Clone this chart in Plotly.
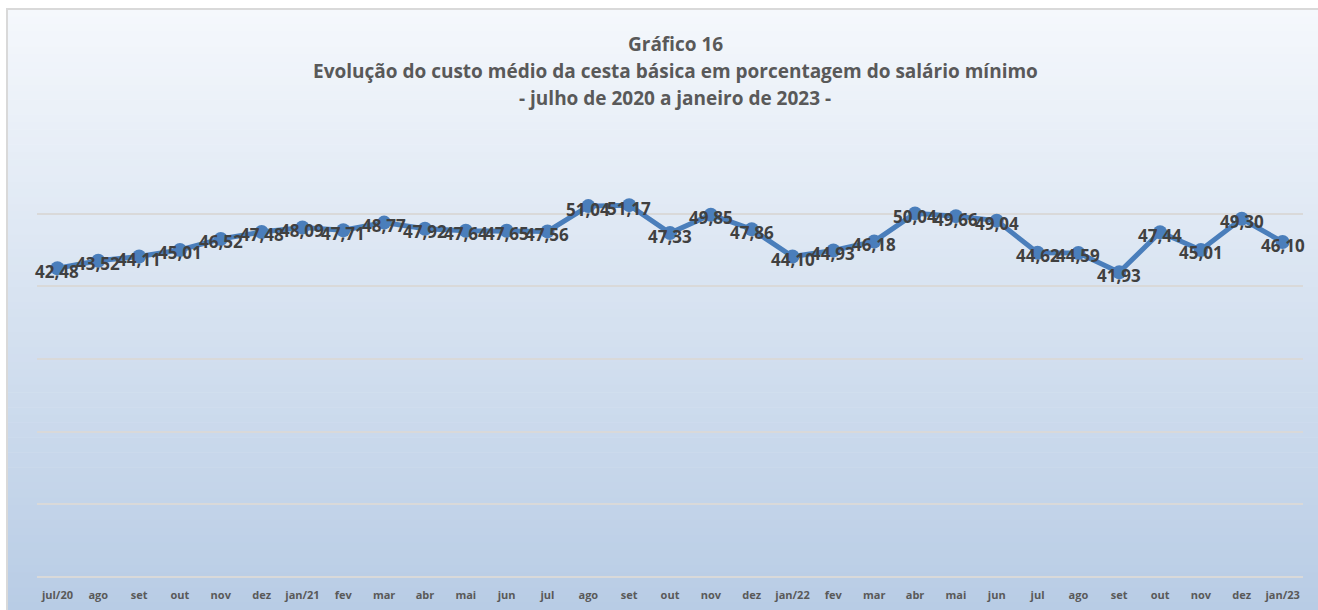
import plotly.graph_objects as go

# ---- data ----
months = ["jul/20", "ago", "set", "out", "nov", "dez", "jan/21", "fev", "mar", "abr", "mai", "jun",
          "jul", "ago", "set", "out", "nov", "dez", "jan/22", "fev", "mar", "abr", "mai", "jun",
          "jul", "ago", "set", "out", "nov", "dez", "jan/23"]
values = [42.48, 43.52, 44.11, 45.01, 46.52, 47.48, 48.09, 47.71, 48.77, 47.92, 47.64, 47.65,
          47.56, 51.04, 51.17, 47.33, 49.85, 47.86, 44.10, 44.93, 46.18, 50.04, 49.66, 49.04,
          44.62, 44.59, 41.93, 47.44, 45.01, 49.30, 46.10]
title_lines = ["Gráfico 16",
               "Evolução do custo médio da cesta básica em porcentagem do salário mínimo",
               "- julho de 2020 a janeiro de 2023 -"]

W, H = 1318, 610
L, R, T, B = 37, 15, 141, 33
PW, PH = W - L - R, H - T - B

def px_x(px):
    return (px - L) / PW

def px_y(py):
    return (H - B - py) / PH

xs = list(range(len(months)))

fig = go.Figure()
fig.add_trace(go.Scatter(
    x=xs, y=values, mode="lines+markers",
    line=dict(color="#4a7ebb", width=5),
    marker=dict(color="#4a7ebb", size=14),
    hoverinfo="skip", showlegend=False, cliponaxis=False,
))

# gradient background (frame) from y=9 to y=610, x=7 to 1318
shapes = []
top_c = (245, 248, 252)
bot_c = (184, 204, 229)
n = 80
y_top, y_bot = 9, H
for i in range(n):
    t = (i + 0.5) / n
    c = tuple(round(top_c[k] + (bot_c[k] - top_c[k]) * t) for k in range(3))
    y0 = y_top + (y_bot - y_top) * i / n
    y1 = y_top + (y_bot - y_top) * (i + 1) / n + 0.6
    shapes.append(dict(type="rect", xref="paper", yref="paper",
                       x0=px_x(7), x1=px_x(W + 2), y0=px_y(min(y1, H + 1)), y1=px_y(y0),
                       fillcolor="rgb(%d,%d,%d)" % c, line=dict(width=0), layer="below"))
# frame border (left and top)
shapes.append(dict(type="line", xref="paper", yref="paper", x0=px_x(7), x1=px_x(7),
                   y0=px_y(H + 1), y1=px_y(8.5), line=dict(color="#d9d9d9", width=2), layer="below"))
shapes.append(dict(type="line", xref="paper", yref="paper", x0=px_x(6), x1=px_x(W + 2),
                   y0=px_y(9), y1=px_y(9), line=dict(color="#d9d9d9", width=2), layer="below"))

annotations = []
for line_txt, py in zip(title_lines, [44, 71, 98]):
    annotations.append(dict(text=line_txt, xref="paper", yref="paper", x=px_x(675), y=px_y(py),
                            xanchor="center", yanchor="middle", showarrow=False,
                            font=dict(family="Open Sans", size=19,
                                      color="#595959", weight="bold")))
# data labels (centered on markers, nudged slightly down)
for xi, v in zip(xs, values):
    annotations.append(dict(text=f"{v:.2f}".replace(".", ","), x=xi, y=v, xref="x", yref="y",
                            xanchor="center", yanchor="middle", yshift=-3, showarrow=False,
                            font=dict(family="Open Sans", size=17, color="#404040", weight="bold")))

fig.update_layout(
    width=W, height=H,
    margin=dict(l=L, r=R, t=T, b=B, autoexpand=False),
    paper_bgcolor="white", plot_bgcolor="rgba(0,0,0,0)",
    separators=",.",
    shapes=shapes, annotations=annotations,
    xaxis=dict(range=[-0.5, len(months) - 0.5], tickmode="array", tickvals=xs, ticktext=months,
               showgrid=False, zeroline=False, showline=False,
               ticks="outside", ticklen=8, tickcolor="rgba(0,0,0,0)",
               tickfont=dict(family="Open Sans", size=11, color="#595959", weight="bold")),
    yaxis=dict(range=[0, 60], dtick=10, showticklabels=False, showgrid=True,
               gridcolor="#d9d9d9", gridwidth=2, zeroline=True, zerolinecolor="#d9d9d9",
               zerolinewidth=2, showline=False, ticks=""),
)

fig.write_html("out.html", config={"displayModeBar": False},
               post_script="document.body.style.margin='0';document.body.style.overflow='hidden';")
